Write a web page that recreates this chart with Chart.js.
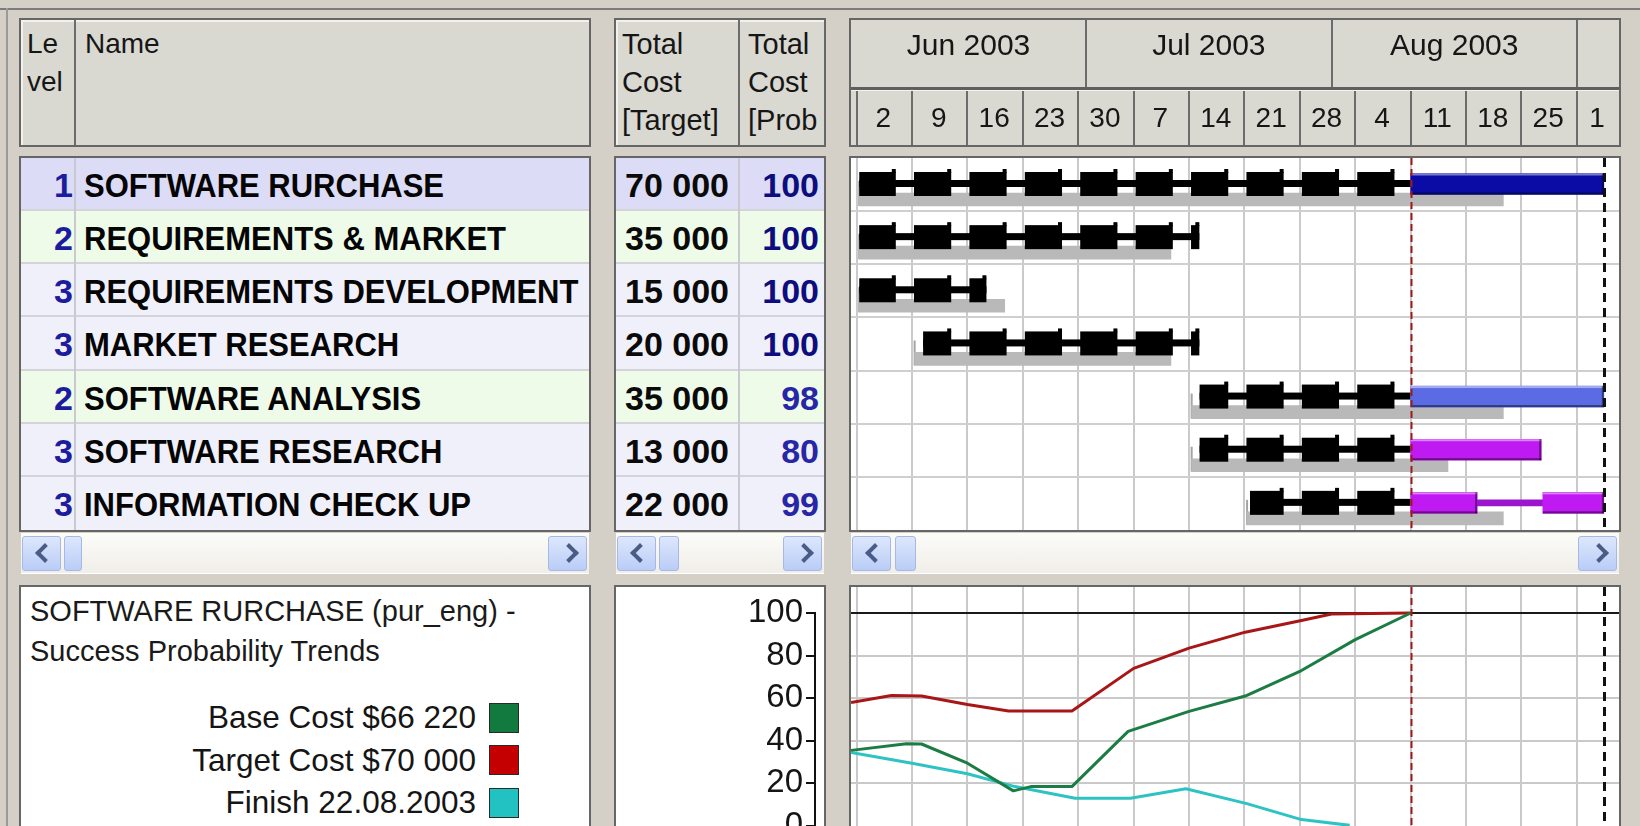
<!DOCTYPE html>
<html>
<head>
<meta charset="utf-8">
<title>Project Gantt</title>
<script src="https://cdn.jsdelivr.net/npm/chart.js@4.4.1/dist/chart.umd.min.js"></script>
<style>
html,body{margin:0;padding:0;}
body{width:1640px;height:826px;overflow:hidden;background:#d4d0c8;position:relative;font-family:"Liberation Sans",Arial,sans-serif;color:#000;}
.a{position:absolute;box-sizing:border-box;}
.pan{position:absolute;box-sizing:border-box;border:2px solid #666;}
.ht{position:absolute;font-size:28px;line-height:38px;color:#161616;white-space:pre;}
.ct{position:absolute;font-size:34px;font-weight:bold;white-space:nowrap;line-height:53px;height:53px;}
.nm{transform-origin:0 50%;transform:scaleX(0.912);}
.trk{position:absolute;box-sizing:border-box;background:linear-gradient(#fcfcf9,#efeee8);}
.btn{position:absolute;box-sizing:border-box;background:linear-gradient(#dde7fd,#bacdf7);border:1px solid #a6b8e3;border-radius:3px;}
.chev{position:absolute;box-sizing:border-box;width:14px;height:14px;border-left:4px solid #4a5c86;border-bottom:4px solid #4a5c86;}
canvas{position:absolute;display:block;}
</style>
</head>
<body>
<div id="root"></div>
<canvas id="ganttHead" width="768" height="125" style="left:851px;top:20px"></canvas>
<canvas id="ganttBody" width="768" height="372" style="left:851px;top:158px"></canvas>
<canvas id="trendAxis" width="208" height="239" style="left:616px;top:587px"></canvas>
<canvas id="trendChart" width="768" height="239" style="left:851px;top:587px"></canvas>
<script>
// ================= DATA =================
const levels      = [1, 2, 3, 3, 2, 3, 3];
const taskNames   = ['SOFTWARE RURCHASE', 'REQUIREMENTS & MARKET', 'REQUIREMENTS DEVELOPMENT',
                     'MARKET RESEARCH', 'SOFTWARE ANALYSIS', 'SOFTWARE RESEARCH', 'INFORMATION CHECK UP'];
const targetCost  = [70000, 35000, 15000, 20000, 35000, 13000, 22000];
const successProb = [100, 100, 100, 100, 98, 80, 99];

// time in days counted from 1 Jun 2003 00:00
const baseStart    = [1.33, 1.33, 1.33, 8.33, 43.33, 43.33, 50.33];
const baseEnd      = [82.71, 40.71, 19.71, 40.71, 82.71, 75.71, 82.71];
const actualStart  = [1.33, 1.33, 1.33, 9.4, 44.33, 44.33, 50.7];
const actualEnd    = [71, 44.3, 17.4, 44.3, 71, 71, 71];
const remainStart  = [71, null, null, null, 71, 71, 71];
const remainEnd    = [95.4, null, null, null, 95.4, 87.5, 79.4];
const remain2Start = [null, null, null, null, null, null, 87.7];
const remain2End   = [null, null, null, null, null, null, 95.4];
const statusDay    = 71;    // 11 Aug 2003
const forecastDay  = 95.4;

const weekTickDays   = [1, 8, 15, 22, 29, 36, 43, 50, 57, 64, 71, 78, 85, 92];
const weekTickLabels = ['2', '9', '16', '23', '30', '7', '14', '21', '28', '4', '11', '18', '25', '1'];
const monthStartDays = [0, 30, 61, 92];
const monthLabels    = ['Jun 2003', 'Jul 2003', 'Aug 2003', 'Sep 2003'];
const probTicks      = [0, 20, 40, 60, 80, 100];

const trendTitle  = ['SOFTWARE RURCHASE (pur_eng) -', 'Success Probability Trends'];
const trendLabels = ['Base Cost $66 220', 'Target Cost $70 000', 'Finish 22.08.2003'];
const baseTrendDays   = [0.3, 7.3, 9.2, 15, 20.8, 23, 28.2, 35.3, 43, 50.1, 57.2, 64, 71];
const baseTrendProb   = [35.5, 38.6, 38.5, 29.5, 16.5, 18.5, 18.5, 44.4, 53.8, 61, 73, 87.5, 100];
const targetTrendDays = [0.3, 5.4, 9.2, 15, 20.2, 28.2, 28.8, 36, 43, 50.1, 57.2, 61, 71];
const targetTrendProb = [58, 61.3, 61, 57, 54, 54, 55.5, 74, 83.5, 91, 96.5, 99.5, 100];
const finishTrendDays = [0.3, 8, 15, 21, 28.6, 35.6, 42.6, 50.3, 57.2, 63.3];
const finishTrendProb = [34.5, 29.5, 24.5, 18.5, 13, 13, 17.5, 10.5, 3, 0.3];

// ================= STYLE =================
const levelRowBg    = {1: '#dcdcf6', 2: '#eefbe9', 3: '#f0f0fa'};
const levelBarColor = {1: '#0b0ba6', 2: '#5a6be3', 3: '#c01af2'};
const trendColors   = ['#1b7d43', '#a81616', '#2ec3c3'];
const legendColors  = ['#137a3f', '#c40000', '#22c2c2'];
const X_MIN = 0.29, X_MAX = 97.32;
const ROW_H = 372 / 7;
const Y_MAX = 100 / (1 - 26 / 239);
Chart.defaults.font.family = '"Liberation Sans", Arial, sans-serif';

// ================= HTML frame & table =================
const root = document.getElementById('root');
function el(cls, css, text) {
  const d = document.createElement('div');
  d.className = cls; d.style.cssText = css;
  if (text != null) d.textContent = text;
  root.appendChild(d); return d;
}
el('a', 'left:0;top:8px;width:1640px;height:2px;background:#7b7b7b');
el('a', 'left:6px;top:8px;width:2px;height:818px;background:#9a9a9a');

// header panels
el('pan', 'left:19px;top:18px;width:572px;height:129px;background:#d9d8d1;box-shadow:inset 2px 2px 0 #f2f1ec');
el('pan', 'left:614px;top:18px;width:212px;height:129px;background:#d9d8d1;box-shadow:inset 2px 2px 0 #f2f1ec');
el('pan', 'left:849px;top:18px;width:772px;height:129px;background:#d9d8d1');
el('a', 'left:74px;top:20px;width:2px;height:125px;background:#6c6c6c');
el('a', 'left:738px;top:20px;width:2px;height:125px;background:#6c6c6c');
el('ht', 'left:27px;top:25px', 'Le\nvel');
el('ht', 'left:85px;top:25px', 'Name');
el('ht', 'left:622px;top:25px;font-size:29px', 'Total\nCost\n[Target]');
el('ht', 'left:748px;top:25px;font-size:29px', 'Total\nCost\n[Prob');

// body panels
el('pan', 'left:19px;top:156px;width:572px;height:376px;background:#fff');
el('pan', 'left:614px;top:156px;width:212px;height:376px;background:#fff');
el('pan', 'left:849px;top:156px;width:772px;height:376px;background:#fff');

const fmt = n => String(n).replace(/\B(?=(\d{3})+(?!\d))/g, ' ');
taskNames.forEach((name, i) => {
  const top = 158 + i * ROW_H;
  const bg = levelRowBg[levels[i]];
  const bb = i < taskNames.length - 1 ? 'border-bottom:2px solid #d3d3d9;' : '';
  el('a', `left:21px;top:${top}px;width:568px;height:${ROW_H}px;background:${bg};${bb}`);
  el('a', `left:616px;top:${top}px;width:208px;height:${ROW_H}px;background:${bg};${bb}`);
  const ty = top + 1;
  el('ct', `left:21px;width:52px;text-align:right;top:${ty}px;color:#1c1c9e`, String(levels[i]));
  el('ct nm', `left:84px;top:${ty}px;color:#050505`, name);
  el('ct', `left:616px;width:113px;text-align:right;top:${ty}px;color:#0a0a0a`, fmt(targetCost[i]));
  el('ct', `left:741px;width:78px;text-align:right;top:${ty}px;color:${successProb[i] === 100 ? '#0d0d80' : '#2626a6'}`, String(successProb[i]));
});
el('a', 'left:74px;top:158px;width:2px;height:372px;background:#c9c9cf');
el('a', 'left:738px;top:158px;width:2px;height:372px;background:#c9c9cf');

// scrollbars
function scrollbar(x0, w, thumbX, thumbW) {
  el('trk', `left:${x0}px;top:533px;width:${w}px;height:41px;border-bottom:1px solid #fff`);
  el('btn', `left:${x0 + 1}px;top:536px;width:39px;height:35px`);
  el('btn', `left:${thumbX}px;top:536px;width:${thumbW}px;height:35px`);
  el('btn', `left:${x0 + w - 41}px;top:536px;width:39px;height:35px`);
  el('chev', `left:${x0 + 17}px;top:546px;transform:rotate(45deg)`);
  el('chev', `left:${x0 + w - 27}px;top:546px;transform:rotate(-135deg)`);
}
scrollbar(21, 568, 64, 18);
scrollbar(616, 208, 659, 20);
scrollbar(851, 768, 895, 21);

// bottom panels
el('pan', 'left:19px;top:585px;width:572px;height:260px;background:#fff');
el('pan', 'left:614px;top:585px;width:212px;height:260px;background:#fff');
el('pan', 'left:849px;top:585px;width:772px;height:260px;background:#fff');
el('ht', 'left:30px;top:591px;font-size:29px;line-height:40px;color:#1a1a1a', trendTitle.join('\n'));

// ================= CHART HELPERS =================
function weekGridX() {
  return {
    type: 'linear', min: X_MIN, max: X_MAX, display: true, offset: false,
    border: {display: false},
    grid: {color: '#cacaca', lineWidth: 2, drawTicks: false, offset: false},
    ticks: {display: false},
    afterBuildTicks: s => { s.ticks = weekTickDays.map(v => ({value: v})); },
    afterFit: s => { s.height = 0; s.paddingLeft = 0; s.paddingRight = 0; }
  };
}
const baseOpts = {
  responsive: false, animation: false, devicePixelRatio: 1, events: [],
  layout: {padding: 0, autoPadding: false},
  plugins: {legend: {display: false}, tooltip: {enabled: false}}
};

const markers = {
  id: 'markers',
  afterDatasetsDraw(chart) {
    const ctx = chart.ctx, xs = chart.scales.x, h = chart.height;
    ctx.save();
    let x = Math.round(xs.getPixelForValue(statusDay)) + 0.5;
    ctx.strokeStyle = '#a01818'; ctx.lineWidth = 2; ctx.setLineDash([7, 4]);
    ctx.beginPath(); ctx.moveTo(x, 0); ctx.lineTo(x, h); ctx.stroke();
    x = Math.round(xs.getPixelForValue(forecastDay)) + 0.5;
    ctx.strokeStyle = '#111'; ctx.lineWidth = 3; ctx.setLineDash([9, 6]);
    ctx.beginPath(); ctx.moveTo(x, 0); ctx.lineTo(x, h); ctx.stroke();
    ctx.restore();
  }
};

// working-time pattern (Mon - Fri blocks, thin weekend links)
const workPattern = {
  id: 'workPattern',
  afterDatasetDraw(chart, args) {
    const ds = chart.data.datasets[args.index];
    if (!ds.workPattern) return;
    const ctx = chart.ctx, xs = chart.scales.x;
    const px = v => xs.getPixelForValue(v);
    args.meta.data.forEach((elm, k) => {
      const raw = ds.data[k];
      if (!raw || !raw.x) return;
      const [s, e] = raw.x;
      const {y, height} = elm.getProps(['y', 'height'], true);
      const top = y - height / 2;
      ctx.save();
      ctx.fillStyle = '#000';
      ctx.fillRect(px(s), y - 4, px(e) - px(s), 7);
      [weekTickDays[0] - 7, ...weekTickDays].forEach(m => {
        const bs = Math.max(s, m + 0.25), be = Math.min(e, m + 4.95);
        if (be <= bs) return;
        const x0 = px(bs), x1 = px(be);
        ctx.fillRect(x0, top, x1 - x0, height);
        ctx.fillRect(x1 - 4, top - 3, 4, 4);
      });
      ctx.restore();
    });
  }
};

// baseline start bracket
const baseTick = {
  id: 'baseTick',
  beforeDatasetDraw(chart, args) {
    const ds = chart.data.datasets[args.index];
    if (!ds.baseTick) return;
    const ctx = chart.ctx;
    args.meta.data.forEach(elm => {
      const {base, y, height} = elm.getProps(['base', 'y', 'height'], true);
      ctx.save(); ctx.fillStyle = '#a4a4a4';
      ctx.fillRect(base - 1, y - height / 2 - 12, 2, height + 12);
      ctx.restore();
    });
  }
};

const bevel = {
  id: 'bevel',
  afterDatasetDraw(chart, args) {
    const ds = chart.data.datasets[args.index];
    if (!ds.bevel) return;
    const ctx = chart.ctx;
    args.meta.data.forEach(elm => {
      const {x, base, y, height} = elm.getProps(['x', 'base', 'y', 'height'], true);
      const l = Math.min(x, base), r = Math.max(x, base), t = y - height / 2;
      ctx.save();
      ctx.fillStyle = 'rgba(255,255,255,0.45)'; ctx.fillRect(l, t, r - l, 2);
      ctx.fillStyle = 'rgba(0,0,0,0.45)'; ctx.fillRect(l, t + height - 2, r - l, 2);
      ctx.fillRect(r - 2, t, 2, height);
      ctx.restore();
    });
  }
};

// ================= GANTT HEADER =================
const headerPaint = {
  id: 'headerPaint',
  beforeDraw(chart) {
    const ctx = chart.ctx, xs = chart.scales.x, W = chart.width, H = chart.height;
    const px = v => xs.getPixelForValue(v);
    ctx.save();
    ctx.fillStyle = '#d9d8d1'; ctx.fillRect(0, 0, W, H);
    ctx.fillStyle = '#5f5f5f'; ctx.fillRect(0, 67, W, 3);
    ctx.fillStyle = '#f4f3ee'; ctx.fillRect(0, 70, W, 1);
    ctx.textAlign = 'center'; ctx.textBaseline = 'middle';
    ctx.font = '30px "Liberation Sans"';
    monthStartDays.forEach((m, i) => {
      const a = Math.max(0, px(m));
      const b = Math.min(W, i + 1 < monthStartDays.length ? px(monthStartDays[i + 1]) : W);
      if (m > X_MIN) { ctx.fillStyle = '#6c6c6c'; ctx.fillRect(Math.round(px(m)) - 1, 0, 2, 67); }
      ctx.fillStyle = '#161616';
      if (b - a > ctx.measureText(monthLabels[i]).width + 12) ctx.fillText(monthLabels[i], (a + b) / 2, 27);
    });
    ctx.font = '28px "Liberation Sans"';
    weekTickDays.forEach((d, i) => {
      ctx.fillStyle = '#6c6c6c'; ctx.fillRect(Math.round(px(d)) - 1, 71, 2, H - 71);
      const a = Math.max(0, px(d)), b = Math.min(W, px(d + 7));
      ctx.fillStyle = '#161616';
      if (b - a > 14) ctx.fillText(weekTickLabels[i], (a + b) / 2 - 1, 99);
    });
    ctx.restore();
  }
};
new Chart(document.getElementById('ganttHead'), {
  type: 'scatter',
  data: {datasets: [{data: []}]},
  options: Object.assign({}, baseOpts, {
    scales: {
      x: {type: 'linear', min: X_MIN, max: X_MAX, display: true, offset: false, border: {display: false},
          grid: {display: false}, ticks: {display: false}, afterFit: s => { s.height = 0; }},
      y: {display: false}
    }
  }),
  plugins: [headerPaint]
});

// ================= GANTT BODY =================
const rows = taskNames.map((_, i) => i);
const BAR_Y = 26 / ROW_H, BASE_Y = 41.5 / ROW_H;
const remRows = rows.filter(i => remainStart[i] != null);
const rem2Rows = rows.filter(i => remain2Start[i] != null);
new Chart(document.getElementById('ganttBody'), {
  type: 'bar',
  data: {
    datasets: [
      {label: 'Baseline', order: 5, grouped: false, barThickness: 13, baseTick: true,
       data: rows.map(i => ({y: i + BASE_Y, x: [baseStart[i], baseEnd[i]]})),
       backgroundColor: '#b9b9b9'},
      {label: 'Actual', order: 4, grouped: false, barThickness: 24, workPattern: true,
       data: rows.map(i => ({y: i + BAR_Y, x: [actualStart[i], actualEnd[i]]})),
       backgroundColor: 'rgba(0,0,0,0)'},
      {label: 'Delay', order: 3, grouped: false, barThickness: 6,
       data: rem2Rows.map(i => ({y: i + BAR_Y, x: [remainEnd[i], remain2Start[i]]})),
       backgroundColor: '#9c14cc'},
      {label: 'Remaining', order: 2, grouped: false, barThickness: 21, bevel: true,
       data: remRows.map(i => ({y: i + BAR_Y, x: [remainStart[i], remainEnd[i]]})),
       backgroundColor: remRows.map(i => levelBarColor[levels[i]])},
      {label: 'Remaining 2', order: 1, grouped: false, barThickness: 21, bevel: true,
       data: rem2Rows.map(i => ({y: i + BAR_Y, x: [remain2Start[i], remain2End[i]]})),
       backgroundColor: rem2Rows.map(i => levelBarColor[levels[i]])}
    ]
  },
  options: Object.assign({}, baseOpts, {
    indexAxis: 'y',
    scales: {
      x: weekGridX(),
      y: {type: 'linear', min: 0, max: 7, reverse: true, display: true, offset: false, border: {display: false},
          grid: {color: '#cfcfcf', lineWidth: 2, drawTicks: false, offset: false}, ticks: {display: false},
          afterBuildTicks: s => { s.ticks = rows.slice(1).map(v => ({value: v})); },
          afterFit: s => { s.width = 0; s.paddingTop = 0; s.paddingBottom = 0; }}
    }
  }),
  plugins: [baseTick, workPattern, bevel, markers]
});

// ================= TREND AXIS (middle panel) =================
const AXIS_X = 815 - 616;
const axisLine = {
  id: 'axisLine',
  afterDraw(chart) {
    const ys = chart.scales.y, ctx = chart.ctx, x = chart.chartArea.left;
    ctx.save(); ctx.fillStyle = '#111';
    const t = ys.getPixelForValue(100);
    ctx.fillRect(x - 1, t - 1, 2, chart.height - t + 1);
    ctx.restore();
  }
};
new Chart(document.getElementById('trendAxis'), {
  type: 'line',
  data: {datasets: [{data: []}]},
  options: Object.assign({}, baseOpts, {
    scales: {
      x: {type: 'linear', min: X_MIN, max: X_MAX, display: false},
      y: {type: 'linear', position: 'left', min: 0, max: Y_MAX, offset: false, border: {display: false},
          afterBuildTicks: s => { s.ticks = probTicks.map(v => ({value: v})); },
          afterFit: s => { s.width = AXIS_X; s.paddingTop = 0; s.paddingBottom = 0; },
          grid: {drawOnChartArea: false, drawTicks: true, tickLength: 9, color: '#111', lineWidth: 2},
          ticks: {padding: 3, color: '#151515', autoSkip: false, font: {size: 33}}}
    }
  }),
  plugins: [axisLine]
});

// ================= TREND CHART =================
const trendChart = new Chart(document.getElementById('trendChart'), {
  type: 'line',
  data: {
    datasets: [
      {label: trendLabels[0], data: baseTrendDays.map((d, i) => ({x: d, y: baseTrendProb[i]}))},
      {label: trendLabels[1], data: targetTrendDays.map((d, i) => ({x: d, y: targetTrendProb[i]}))},
      {label: trendLabels[2], data: finishTrendDays.map((d, i) => ({x: d, y: finishTrendProb[i]}))}
    ].map((ds, k) => Object.assign(ds, {borderColor: trendColors[k], borderWidth: 3, pointRadius: 0,
                                         tension: 0, fill: false, borderJoinStyle: 'round'}))
  },
  options: Object.assign({}, baseOpts, {
    scales: {
      x: weekGridX(),
      y: {type: 'linear', min: 0, max: Y_MAX, display: true, offset: false, border: {display: false},
          grid: {drawTicks: false, lineWidth: 2, color: c => (c.tick && c.tick.value === 100) ? '#1a1a1a' : '#c9c9c9'},
          ticks: {display: false},
          afterBuildTicks: s => { s.ticks = probTicks.slice(1).map(v => ({value: v})); },
          afterFit: s => { s.width = 0; }}
    }
  }),
  plugins: [markers]
});

// legend (from the trend chart datasets)
trendChart.data.datasets.forEach((ds, k) => {
  const cy = 717 + k * 42.5;
  el('a', `left:40px;width:436px;text-align:right;top:${cy - 20}px;height:40px;line-height:40px;font-size:31.5px;color:#151515;white-space:nowrap`, ds.label);
  el('a', `left:489px;top:${cy - 14.5}px;width:30px;height:30px;background:${legendColors[k]};border:1px solid #2a2a2a`);
});
</script>
</body>
</html>
